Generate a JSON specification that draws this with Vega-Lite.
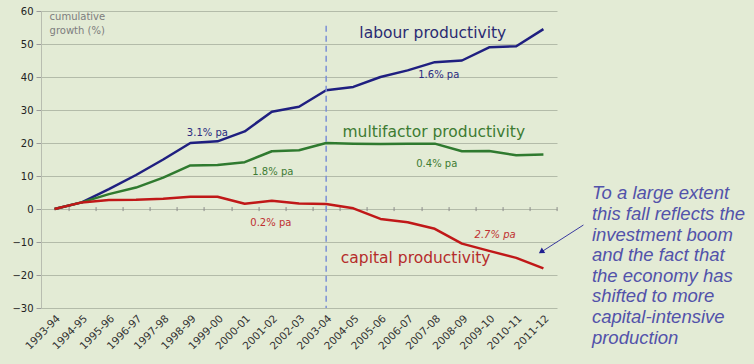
{
  "$schema": "https://vega.github.io/schema/vega-lite/v6.json",
  "width": 516,
  "height": 297,
  "autosize": "none",
  "padding": {"left": 41, "top": 11, "right": 197, "bottom": 56},
  "background": "#e3ebd5",
  "config": {"view": {"stroke": null}, "font": "DejaVu Sans"},
  "data": {"values": [
    {"period": "1993-94", "series": "labour", "value": 0},
    {"period": "1994-95", "series": "labour", "value": 2},
    {"period": "1995-96", "series": "labour", "value": 6},
    {"period": "1996-97", "series": "labour", "value": 10.3},
    {"period": "1997-98", "series": "labour", "value": 15},
    {"period": "1998-99", "series": "labour", "value": 20},
    {"period": "1999-00", "series": "labour", "value": 20.5},
    {"period": "2000-01", "series": "labour", "value": 23.5},
    {"period": "2001-02", "series": "labour", "value": 29.5},
    {"period": "2002-03", "series": "labour", "value": 31},
    {"period": "2003-04", "series": "labour", "value": 36},
    {"period": "2004-05", "series": "labour", "value": 37},
    {"period": "2005-06", "series": "labour", "value": 40},
    {"period": "2006-07", "series": "labour", "value": 42},
    {"period": "2007-08", "series": "labour", "value": 44.5},
    {"period": "2008-09", "series": "labour", "value": 45},
    {"period": "2009-10", "series": "labour", "value": 49},
    {"period": "2010-11", "series": "labour", "value": 49.3},
    {"period": "2011-12", "series": "labour", "value": 54.5},
    {"period": "1993-94", "series": "multifactor", "value": 0},
    {"period": "1994-95", "series": "multifactor", "value": 2},
    {"period": "1995-96", "series": "multifactor", "value": 4.5},
    {"period": "1996-97", "series": "multifactor", "value": 6.5},
    {"period": "1997-98", "series": "multifactor", "value": 9.5},
    {"period": "1998-99", "series": "multifactor", "value": 13.2},
    {"period": "1999-00", "series": "multifactor", "value": 13.3},
    {"period": "2000-01", "series": "multifactor", "value": 14.2},
    {"period": "2001-02", "series": "multifactor", "value": 17.5},
    {"period": "2002-03", "series": "multifactor", "value": 17.8},
    {"period": "2003-04", "series": "multifactor", "value": 20},
    {"period": "2004-05", "series": "multifactor", "value": 19.8},
    {"period": "2005-06", "series": "multifactor", "value": 19.7},
    {"period": "2006-07", "series": "multifactor", "value": 19.8},
    {"period": "2007-08", "series": "multifactor", "value": 19.8},
    {"period": "2008-09", "series": "multifactor", "value": 17.5},
    {"period": "2009-10", "series": "multifactor", "value": 17.6},
    {"period": "2010-11", "series": "multifactor", "value": 16.3},
    {"period": "2011-12", "series": "multifactor", "value": 16.5},
    {"period": "1993-94", "series": "capital", "value": 0},
    {"period": "1994-95", "series": "capital", "value": 2},
    {"period": "1995-96", "series": "capital", "value": 2.7},
    {"period": "1996-97", "series": "capital", "value": 2.8},
    {"period": "1997-98", "series": "capital", "value": 3.1},
    {"period": "1998-99", "series": "capital", "value": 3.7},
    {"period": "1999-00", "series": "capital", "value": 3.7},
    {"period": "2000-01", "series": "capital", "value": 1.6},
    {"period": "2001-02", "series": "capital", "value": 2.5},
    {"period": "2002-03", "series": "capital", "value": 1.7},
    {"period": "2003-04", "series": "capital", "value": 1.5},
    {"period": "2004-05", "series": "capital", "value": 0.2},
    {"period": "2005-06", "series": "capital", "value": -3},
    {"period": "2006-07", "series": "capital", "value": -4},
    {"period": "2007-08", "series": "capital", "value": -6},
    {"period": "2008-09", "series": "capital", "value": -10.5},
    {"period": "2009-10", "series": "capital", "value": -12.7},
    {"period": "2010-11", "series": "capital", "value": -14.8},
    {"period": "2011-12", "series": "capital", "value": -18}
  ]},
  "resolve": {"axis": {"x": "independent", "y": "independent"}},
  "layer": [
    {
      "mark": {"type": "line", "strokeWidth": 2.5, "strokeJoin": "round"},
      "encoding": {
        "x": {
          "field": "period", "type": "ordinal", "sort": null,
          "scale": {"type": "point", "padding": 0.5},
          "axis": {"title": null, "orient": "bottom", "labelAngle": -45, "ticks": false, "domain": false, "grid": false, "labelFontSize": 10.5, "labelColor": "#333333", "labelPadding": 5, "labelFont": "DejaVu Sans"}
        },
        "y": {
          "field": "value", "type": "quantitative",
          "scale": {"domain": [-30, 60], "nice": false, "zero": false},
          "axis": {"title": null, "values": [-30, -20, -10, 0, 10, 20, 30, 40, 50, 60], "grid": true, "gridColor": "#b3bba9", "gridWidth": 1, "tickColor": "#9a9a9a", "tickSize": 5, "domain": true, "domainColor": "#b8bdb0", "labelFontSize": 10, "labelColor": "#222222", "labelPadding": 3, "labelFont": "DejaVu Sans", "labelOverlap": false}
        },
        "color": {
          "field": "series", "type": "nominal",
          "scale": {"domain": ["labour", "multifactor", "capital"], "range": ["#1f1f80", "#2f7a2f", "#c01818"]},
          "legend": null
        },
        "order": {"field": "series"}
      }
    },
    {
      "data": {"values": [{}]},
      "mark": {"type": "rule", "color": "#7b8fd6", "strokeDash": [6, 4], "strokeWidth": 1.5},
      "encoding": {
        "x": {"datum": "2003-04", "axis": {"title": null, "orient": "bottom", "offset": -115, "translate": 14.08, "labels": false, "domain": false, "grid": false, "ticks": true, "tickSize": 4, "tickColor": "#8a8a8a"}},
        "y": {"datum": 55.5, "type": "quantitative", "axis": null},
        "y2": {"datum": -30}
      }
    },
    {
      "data": {"values": [{}]},
      "mark": {"type": "text", "text": ["cumulative", "growth (%)"], "align": "left", "baseline": "top", "dx": -5, "fontSize": 10, "lineHeight": 14, "color": "#7d7d7d"},
      "encoding": {"x": {"datum": "1993-94", "axis": null}, "y": {"datum": 59.6, "type": "quantitative", "axis": null}}
    },
    {
      "data": {"values": [{}]},
      "mark": {"type": "text", "text": "labour productivity", "align": "center", "baseline": "middle", "dx": -2, "fontSize": 15.5, "color": "#2a2a72"},
      "encoding": {"x": {"datum": "2007-08", "axis": null}, "y": {"datum": 53.3, "type": "quantitative", "axis": null}}
    },
    {
      "data": {"values": [{}]},
      "mark": {"type": "text", "text": "multifactor productivity", "align": "center", "baseline": "middle", "dx": -1, "fontSize": 15.5, "color": "#3d7b32"},
      "encoding": {"x": {"datum": "2007-08", "axis": null}, "y": {"datum": 23.3, "type": "quantitative", "axis": null}}
    },
    {
      "data": {"values": [{}]},
      "mark": {"type": "text", "text": "capital productivity", "align": "center", "baseline": "middle", "dx": 8, "fontSize": 15.5, "color": "#b52b2b"},
      "encoding": {"x": {"datum": "2006-07", "axis": null}, "y": {"datum": -14.8, "type": "quantitative", "axis": null}}
    },
    {
      "data": {"values": [{}]},
      "mark": {"type": "text", "text": "3.1% pa", "align": "center", "baseline": "middle", "dx": 17, "fontSize": 10, "color": "#2a2a80"},
      "encoding": {"x": {"datum": "1998-99", "axis": null}, "y": {"datum": 23, "type": "quantitative", "axis": null}}
    },
    {
      "data": {"values": [{}]},
      "mark": {"type": "text", "text": "1.6% pa", "align": "center", "baseline": "middle", "dx": 4, "fontSize": 10, "color": "#2a2a80"},
      "encoding": {"x": {"datum": "2007-08", "axis": null}, "y": {"datum": 40.6, "type": "quantitative", "axis": null}}
    },
    {
      "data": {"values": [{}]},
      "mark": {"type": "text", "text": "1.8% pa", "align": "center", "baseline": "middle", "dx": 1, "fontSize": 10, "color": "#3d7b32"},
      "encoding": {"x": {"datum": "2001-02", "axis": null}, "y": {"datum": 11.2, "type": "quantitative", "axis": null}}
    },
    {
      "data": {"values": [{}]},
      "mark": {"type": "text", "text": "0.4% pa", "align": "center", "baseline": "middle", "dx": 2, "fontSize": 10, "color": "#3d7b32"},
      "encoding": {"x": {"datum": "2007-08", "axis": null}, "y": {"datum": 13.6, "type": "quantitative", "axis": null}}
    },
    {
      "data": {"values": [{}]},
      "mark": {"type": "text", "text": "0.2% pa", "align": "center", "baseline": "middle", "dx": -1, "fontSize": 10, "color": "#c03030"},
      "encoding": {"x": {"datum": "2001-02", "axis": null}, "y": {"datum": -4.2, "type": "quantitative", "axis": null}}
    },
    {
      "data": {"values": [{}]},
      "mark": {"type": "text", "text": "2.7% pa", "align": "center", "baseline": "middle", "dx": 6, "fontSize": 10, "fontStyle": "italic", "color": "#c03030"},
      "encoding": {"x": {"datum": "2009-10", "axis": null}, "y": {"datum": -7.9, "type": "quantitative", "axis": null}}
    },
    {
      "data": {"values": [{}]},
      "mark": {"type": "rule", "color": "#3a3aa0", "strokeWidth": 1, "xOffset": 40, "x2Offset": -3},
      "encoding": {
        "x": {"datum": "2011-12", "axis": null},
        "x2": {"datum": "2011-12"},
        "y": {"datum": -4.85, "type": "quantitative", "axis": null},
        "y2": {"datum": -13.2}
      }
    },
    {
      "data": {"values": [{}]},
      "mark": {"type": "point", "shape": "triangle", "filled": true, "size": 40, "angle": 237, "color": "#1f1f90", "opacity": 1, "xOffset": -1.5},
      "encoding": {"x": {"datum": "2011-12", "axis": null}, "y": {"datum": -12.8, "type": "quantitative", "axis": null}}
    },
    {
      "data": {"values": [{}]},
      "mark": {"type": "text", "text": ["To a large extent", "this fall reflects the", "investment boom", "and the fact that", "the economy has", "shifted to more", "capital-intensive", "production"], "align": "left", "baseline": "alphabetic", "dx": 48.5, "font": "Liberation Sans", "fontStyle": "italic", "fontSize": 18.5, "lineHeight": 20.6, "color": "#5252aa"},
      "encoding": {"x": {"datum": "2011-12", "axis": null}, "y": {"datum": 2.9, "type": "quantitative", "axis": null}}
    }
  ]
}
